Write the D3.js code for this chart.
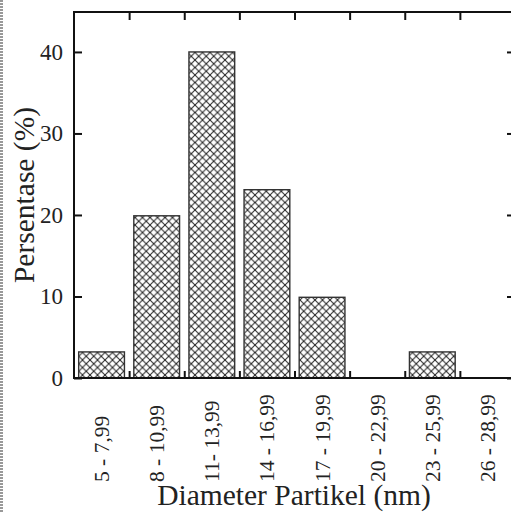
<!DOCTYPE html>
<html>
<head>
<meta charset="utf-8">
<script src="https://cdn.jsdelivr.net/npm/d3@7"></script>
<style>
  body { margin: 0; background: #fff; }
  svg { display: block; }
  text { font-family: "Liberation Serif", "DejaVu Serif", serif; fill: #222; }
</style>
</head>
<body>
<svg id="chart" width="511" height="512"></svg>
<script>
// values
var categories = ["5 - 7,99", "8 - 10,99", "11- 13,99", "14 - 16,99",
                  "17 - 19,99", "20 - 22,99", "23 - 25,99", "26 - 28,99"];
var percent = [3.2, 19.9, 40, 23.1, 9.9, 0, 3.2, 0];
var yTicks = [0, 10, 20, 30, 40];

var W = 511, H = 512;
var plotLeft = 74, plotRight = 515, plotTop = 12, plotBottom = 378;

var svg = d3.select("#chart");

// crosshatch fill
var pat = svg.append("defs").append("pattern")
    .attr("id", "hatch")
    .attr("patternUnits", "userSpaceOnUse")
    .attr("width", 7.5).attr("height", 7.5);
pat.append("rect").attr("width", 7.5).attr("height", 7.5).attr("fill", "#fff");
pat.append("path")
    .attr("d", "M0,0L7.5,7.5M7.5,0L0,7.5")
    .attr("stroke", "#222").attr("stroke-width", 1);

// grey dotted scan edge on the far left
svg.append("line")
    .attr("x1", 1.5).attr("x2", 1.5).attr("y1", 0).attr("y2", H)
    .attr("stroke", "#999").attr("stroke-width", 3)
    .attr("stroke-dasharray", "2,1");

var x = d3.scaleBand()
    .domain(categories)
    .range([plotLeft, plotRight])
    .paddingInner(0.17)
    .paddingOuter(0.085);

var y = d3.scaleLinear()
    .domain([0, 44.9])
    .range([plotBottom, plotTop]);

// bars
svg.selectAll(".bar")
    .data(percent)
    .enter()
    .append("rect").classed("bar", true)
        .attr("x", function(d, i){ return x(categories[i]); })
        .attr("width", x.bandwidth())
        .attr("y", function(d){ return y(d); })
        .attr("height", function(d){ return plotBottom - y(d); })
        .attr("fill", "url(#hatch)")
        .attr("stroke", "#333")
        .attr("stroke-width", 1.4)
        .attr("display", function(d){ return d > 0 ? null : "none"; });

// axes, ticks pointing inward
var step = x.step();
var boundaries = d3.range(1, categories.length).map(function(i){ return plotLeft + i * step; });

function noDomain(g){ g.select(".domain").remove(); }
function tickStyle(g){ g.selectAll("line").attr("stroke", "#111").attr("stroke-width", 2); }

svg.append("g")
    .attr("transform", "translate(" + plotLeft + ",0)")
    .call(d3.axisLeft(y).tickValues(yTicks).tickSizeInner(-8).tickSizeOuter(0).tickPadding(11))
    .call(noDomain)
    .call(tickStyle)
    .call(function(g){
        g.selectAll("text").attr("font-size", 23).style("font-family", "Liberation Serif").attr("fill", "#222");
    });

svg.append("g")
    .attr("transform", "translate(" + plotRight + ",0)")
    .call(d3.axisRight(y).tickValues(yTicks).tickSizeInner(-8).tickSizeOuter(0).tickFormat(""))
    .call(noDomain)
    .call(tickStyle);

var xb = d3.scaleLinear().domain([plotLeft, plotRight]).range([plotLeft, plotRight]);

svg.append("g")
    .attr("transform", "translate(0," + plotTop + ")")
    .call(d3.axisTop(xb).tickValues(boundaries).tickSizeInner(-8).tickSizeOuter(0).tickFormat(""))
    .call(noDomain)
    .call(tickStyle);

svg.append("g")
    .attr("transform", "translate(0," + plotBottom + ")")
    .call(d3.axisBottom(xb).tickValues(boundaries).tickSizeInner(-7).tickSizeOuter(0).tickFormat(""))
    .call(noDomain)
    .call(tickStyle);

// frame
svg.append("rect")
    .attr("x", plotLeft).attr("y", plotTop)
    .attr("width", plotRight - plotLeft).attr("height", plotBottom - plotTop)
    .attr("fill", "none").attr("stroke", "#111").attr("stroke-width", 2);

// category labels, rotated
svg.selectAll(".cat")
    .data(categories)
    .enter()
    .append("text").classed("cat", true)
        .attr("transform", function(d){
            return "translate(" + (x(d) + x.bandwidth() / 2 + 7.5) + ",482) rotate(-90)";
        })
        .attr("text-anchor", "start")
        .attr("font-size", 21.5)
        .text(function(d){ return d; });

// titles
svg.append("text")
    .attr("x", 294).attr("y", 505)
    .attr("text-anchor", "middle")
    .attr("font-size", 29.5)
    .text("Diameter Partikel (nm)");

svg.append("text")
    .attr("transform", "translate(34,195) rotate(-90)")
    .attr("text-anchor", "middle")
    .attr("font-size", 29.5)
    .text("Persentase (%)");
</script>
</body>
</html>
